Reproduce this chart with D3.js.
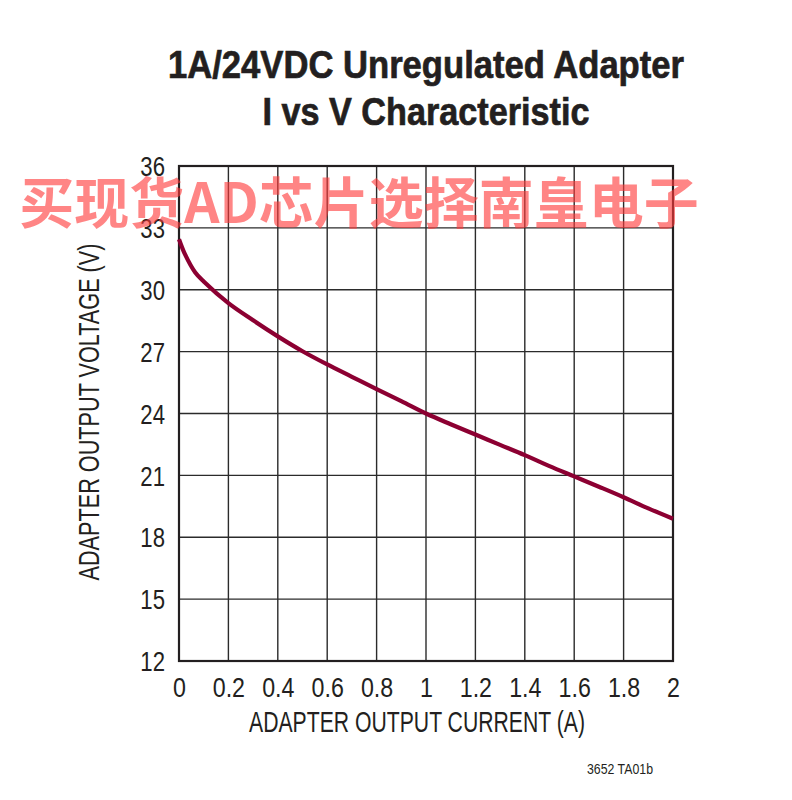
<!DOCTYPE html>
<html><head><meta charset="utf-8">
<script src="https://cdn.jsdelivr.net/npm/d3@7"></script>
<style>body{margin:0;background:#fff}</style>
</head><body>
<svg id="chart" width="792" height="800"></svg>
<script>
const current = [0, 0.025, 0.065, 0.1, 0.2, 0.3, 0.4, 0.5, 0.6, 0.7, 0.8, 0.9, 1.0, 1.1, 1.2, 1.3, 1.4, 1.5, 1.6, 1.7, 1.8, 1.9, 2.0];
const voltage = [32.45, 31.7, 30.85, 30.4, 29.35, 28.52, 27.74, 27.02, 26.38, 25.78, 25.18, 24.6, 24.0, 23.48, 22.98, 22.48, 21.98, 21.45, 20.95, 20.45, 19.94, 19.4, 18.9];
const xTicks = [0, 0.2, 0.4, 0.6, 0.8, 1, 1.2, 1.4, 1.6, 1.8, 2];
const yTicks = [12, 15, 18, 21, 24, 27, 30, 33, 36];
const titleLines = ["1A/24VDC Unregulated Adapter", "I vs V Characteristic"];
const xLabel = "ADAPTER OUTPUT CURRENT (A)";
const yLabel = "ADAPTER OUTPUT VOLTAGE (V)";
const note = "3652 TA01b";
const watermark = "买现货AD芯片选择南皇电子";

const svg = d3.select("#chart");
const L = 179, R = 673, T = 166, B = 661;
const x = d3.scaleLinear().domain([0, 2]).range([L, R]);
const y = d3.scaleLinear().domain([12, 36]).range([B, T]);
const narrow = "'Liberation Sans','Arial',sans-serif";

// title
const titleW = [516, 327];
svg.selectAll("text.title").data(titleLines).enter().append("text")
  .attr("class", "title")
  .attr("x", 426).attr("y", (d, i) => 78 + i * 47)
  .attr("text-anchor", "middle")
  .attr("font-family", narrow).attr("font-weight", "bold")
  .attr("font-size", 39).attr("fill", "#231f20")
  .attr("stroke", "#231f20").attr("stroke-width", 0.7)
  .attr("textLength", (d, i) => titleW[i]).attr("lengthAdjust", "spacingAndGlyphs")
  .text(d => d);

// grid
const g = svg.append("g");
g.selectAll("line.vg").data(xTicks).enter().append("line")
  .attr("x1", d => x(d)).attr("x2", d => x(d)).attr("y1", T).attr("y2", B)
  .attr("stroke", "#2b2b2b").attr("stroke-width", 1.4);
g.selectAll("line.hg").data(yTicks).enter().append("line")
  .attr("y1", d => y(d)).attr("y2", d => y(d)).attr("x1", L).attr("x2", R)
  .attr("stroke", "#2b2b2b").attr("stroke-width", 1.4);
g.append("rect").attr("x", L).attr("y", T).attr("width", R - L).attr("height", B - T)
  .attr("fill", "none").attr("stroke", "#231f20").attr("stroke-width", 2.2);

// axes (labels only)
const xAxis = d3.axisBottom(x).tickValues(xTicks).tickFormat(d3.format("")).tickSize(0);
const xa = svg.append("g").attr("transform", `translate(0,${B})`).call(xAxis);
xa.select(".domain").remove();
xa.selectAll("text").attr("font-family", narrow).attr("font-size", 27).attr("fill", "#231f20")
  .attr("dy", 0).attr("y", 36)
  .each(function() {
    const w = this.getComputedTextLength();
    d3.select(this).attr("textLength", w * 0.86).attr("lengthAdjust", "spacingAndGlyphs");
  });

const yAxis = d3.axisLeft(y).tickValues(yTicks).tickSize(0).tickPadding(14);
const ya = svg.append("g").attr("transform", `translate(${L},0)`).call(yAxis);
ya.select(".domain").remove();
ya.selectAll("text").attr("font-family", narrow).attr("font-size", 27).attr("fill", "#231f20").attr("dy", "0.36em")
  .each(function() {
    const w = this.getComputedTextLength();
    d3.select(this).attr("textLength", w * 0.82).attr("lengthAdjust", "spacingAndGlyphs");
  });

// axis titles
svg.append("text").attr("x", 417).attr("y", 732).attr("text-anchor", "middle")
  .attr("font-family", narrow).attr("font-size", 29).attr("fill", "#231f20")
  .attr("textLength", 336).attr("lengthAdjust", "spacingAndGlyphs").text(xLabel);
svg.append("text").attr("transform", "translate(99,412) rotate(-90)").attr("text-anchor", "middle")
  .attr("font-family", narrow).attr("font-size", 29).attr("fill", "#231f20")
  .attr("textLength", 337).attr("lengthAdjust", "spacingAndGlyphs").text(yLabel);
svg.append("text").attr("x", 653).attr("y", 774).attr("text-anchor", "end")
  .attr("font-family", narrow).attr("font-size", 15).attr("fill", "#231f20")
  .attr("textLength", 66).attr("lengthAdjust", "spacingAndGlyphs").text(note);

// curve
const pts = current.map((c, i) => [c, voltage[i]]);
svg.append("path").datum(pts)
  .attr("d", d3.line().x(d => x(d[0])).y(d => y(d[1])).curve(d3.curveCatmullRom.alpha(0.5)))
  .attr("fill", "none").attr("stroke", "#8c0032").attr("stroke-width", 4.2).attr("stroke-linecap", "butt");

// watermark
svg.append("text").attr("x", 359).attr("y", 223).attr("text-anchor", "middle")
  .attr("font-family", "'Noto Sans CJK SC',sans-serif").attr("font-weight", "bold")
  .attr("font-size", 55).attr("fill", "#ff3a3a").attr("fill-opacity", 0.62)
  .text(watermark);
</script>
</body></html>
